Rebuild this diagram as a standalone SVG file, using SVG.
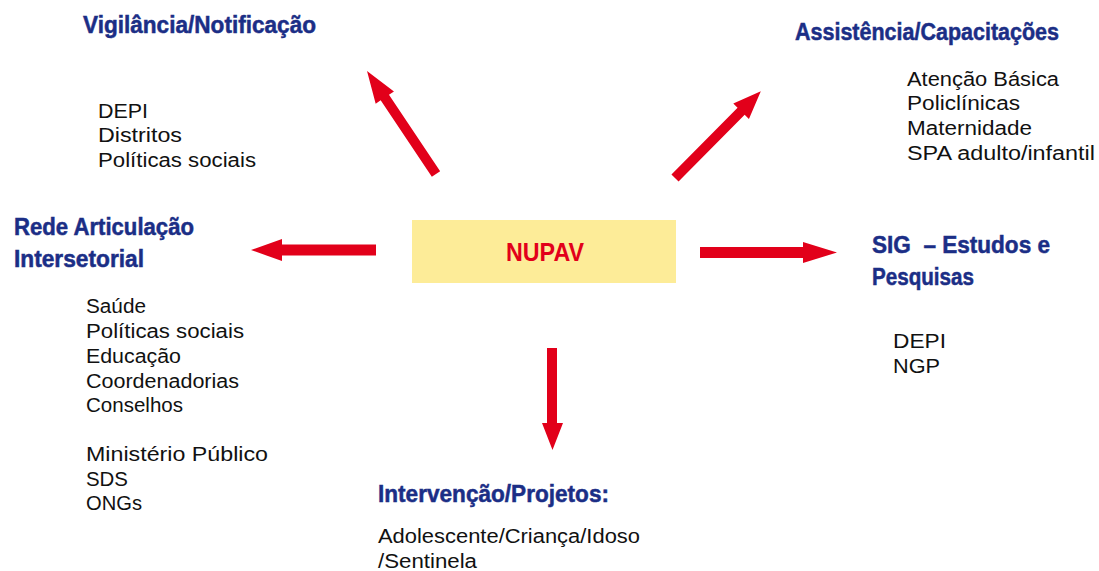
<svg xmlns="http://www.w3.org/2000/svg" width="1099" height="571" viewBox="0 0 1099 571">
<style>
.t{font-family:"Liberation Sans",Arial,sans-serif;font-weight:bold;font-size:23.5px;fill:#1b2e86;stroke:#1b2e86;stroke-width:0.5px}
.b{font-family:"Liberation Sans",Arial,sans-serif;font-size:20px;fill:#111}
.a{fill:#e2001a}
</style>
<rect width="1099" height="571" fill="#fff"/>
<g id="connectors">
<polygon class="a" transform="translate(436,174) rotate(-123.8)" points="0,-5 92,-5 92,-11 124,0 92,11 92,5 0,5"/>
<polygon class="a" transform="translate(675,178) rotate(-45.3)" points="0,-5 94,-5 94,-11 122,0 94,11 94,5 0,5"/>
<polygon class="a" points="376,244.5 282,244.5 282,239 251,250 282,261 282,255.5 376,255.5"/>
<polygon class="a" points="700,247 803,247 803,242 837,252.5 803,263 803,258 700,258"/>
<polygon class="a" points="547,348 557,348 557,423 563,423 552.5,450 542,423 547,423"/>
</g>
<g id="nupav">
<rect x="412" y="220" width="264" height="63" fill="#fdec98"/>
<text x="506" y="261" textLength="78" lengthAdjust="spacingAndGlyphs" style="font-family:'Liberation Sans',Arial,sans-serif;font-weight:bold;font-size:25px;fill:#e2001a">NUPAV</text>
</g>
<g id="vigilancia">
<text class="t" x="83" y="33" textLength="233" lengthAdjust="spacingAndGlyphs">Vigilância/Notificação</text>
<text class="b" x="98" y="118" textLength="50" lengthAdjust="spacingAndGlyphs">DEPI</text>
<text class="b" x="98" y="142" textLength="84" lengthAdjust="spacingAndGlyphs">Distritos</text>
<text class="b" x="98" y="167" textLength="158" lengthAdjust="spacingAndGlyphs">Políticas sociais</text>
</g>
<g id="assistencia">
<text class="t" x="795" y="40" textLength="264" lengthAdjust="spacingAndGlyphs">Assistência/Capacitações</text>
<text class="b" x="907" y="86" textLength="152" lengthAdjust="spacingAndGlyphs">Atenção Básica</text>
<text class="b" x="907" y="110" textLength="113" lengthAdjust="spacingAndGlyphs">Policlínicas</text>
<text class="b" x="907" y="135" textLength="125" lengthAdjust="spacingAndGlyphs">Maternidade</text>
<text class="b" x="907" y="160" textLength="188" lengthAdjust="spacingAndGlyphs">SPA adulto/infantil</text>
</g>
<g id="rede">
<text class="t" x="14" y="235" textLength="180" lengthAdjust="spacingAndGlyphs">Rede Articulação</text>
<text class="t" x="14" y="267" textLength="130" lengthAdjust="spacingAndGlyphs">Intersetorial</text>
<text class="b" x="86" y="313" textLength="60" lengthAdjust="spacingAndGlyphs">Saúde</text>
<text class="b" x="86" y="338" textLength="158" lengthAdjust="spacingAndGlyphs">Políticas sociais</text>
<text class="b" x="86" y="363" textLength="95" lengthAdjust="spacingAndGlyphs">Educação</text>
<text class="b" x="86" y="388" textLength="153" lengthAdjust="spacingAndGlyphs">Coordenadorias</text>
<text class="b" x="86" y="412" textLength="97" lengthAdjust="spacingAndGlyphs">Conselhos</text>
<text class="b" x="86" y="461" textLength="182" lengthAdjust="spacingAndGlyphs">Ministério Público</text>
<text class="b" x="86" y="486" textLength="42" lengthAdjust="spacingAndGlyphs">SDS</text>
<text class="b" x="86" y="510" textLength="56" lengthAdjust="spacingAndGlyphs">ONGs</text>
</g>
<g id="sig">
<text class="t" x="872" y="253" textLength="178" lengthAdjust="spacingAndGlyphs">SIG&#160; – Estudos e</text>
<text class="t" x="872" y="285" textLength="102" lengthAdjust="spacingAndGlyphs">Pesquisas</text>
<text class="b" x="893" y="348" textLength="53" lengthAdjust="spacingAndGlyphs">DEPI</text>
<text class="b" x="893" y="373" textLength="47" lengthAdjust="spacingAndGlyphs">NGP</text>
</g>
<g id="intervencao">
<text class="t" x="378" y="502" textLength="231" lengthAdjust="spacingAndGlyphs">Intervenção/Projetos:</text>
<text class="b" x="378" y="543" textLength="262" lengthAdjust="spacingAndGlyphs">Adolescente/Criança/Idoso</text>
<text class="b" x="378" y="568" textLength="99" lengthAdjust="spacingAndGlyphs">/Sentinela</text>
</g>
</svg>
